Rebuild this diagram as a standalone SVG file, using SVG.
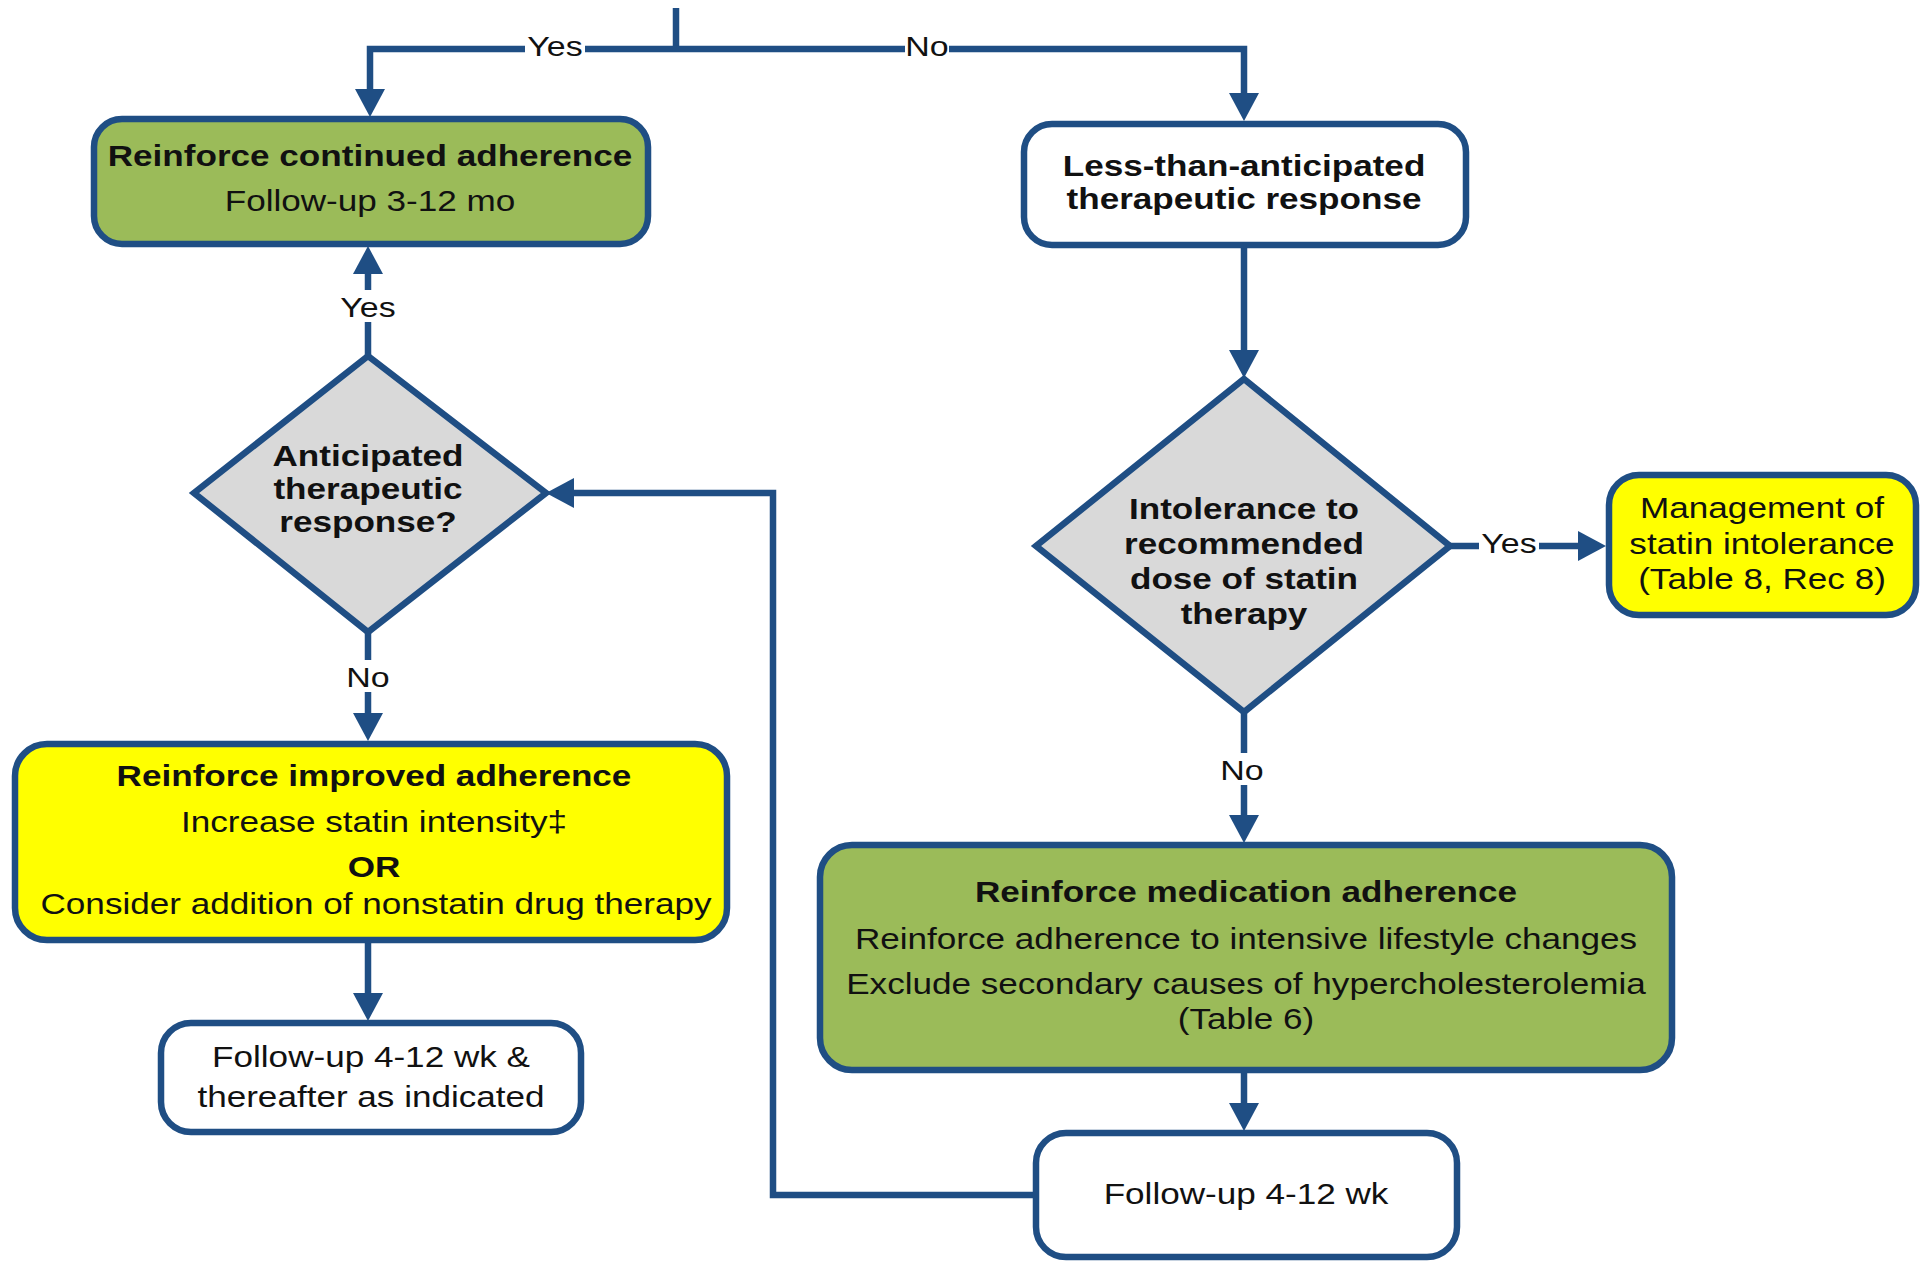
<svg xmlns="http://www.w3.org/2000/svg" width="1923" height="1265" viewBox="0 0 1923 1265">
<style>
.box{stroke:#1f4e84;stroke-width:6.5}
.green{fill:#9bbb59}
.yellow{fill:#ffff00}
.white{fill:#ffffff}
.dia{fill:#d9d9d9;stroke:#1f4e84;stroke-width:6.5;stroke-linejoin:miter}
.t{font-family:"Liberation Sans",Arial,sans-serif;font-size:29.5px;fill:#111;text-anchor:middle}
.b{font-weight:bold}
.conn{fill:none;stroke:#1f4e84;stroke-width:6.5}
.lbl{font-family:"Liberation Sans",Arial,sans-serif;font-size:28.5px;fill:#111;text-anchor:middle}
.lblbg{fill:#ffffff}
</style>
<defs>
<marker id="arr" markerUnits="userSpaceOnUse" markerWidth="30" markerHeight="32" refX="14" refY="15" orient="auto">
<path d="M0,0 L28,15 L0,30 Z" fill="#1f4e84"/>
</marker>
</defs>
<rect width="1923" height="1265" fill="#ffffff"/>
<g id="connectors">
<path class="conn" d="M676,8 V49"/>
<path class="conn" d="M676,49 H370 V103" marker-end="url(#arr)"/>
<path class="conn" d="M676,49 H1244 V107" marker-end="url(#arr)"/>
<path class="conn" d="M1244,245 V364" marker-end="url(#arr)"/>
<path class="conn" d="M1450,546 H1592" marker-end="url(#arr)"/>
<path class="conn" d="M1244,712 V829" marker-end="url(#arr)"/>
<path class="conn" d="M1244,1072 V1117" marker-end="url(#arr)"/>
<path class="conn" d="M1036,1195 H773 V493 H560" marker-end="url(#arr)"/>
<path class="conn" d="M368,356 V260" marker-end="url(#arr)"/>
<path class="conn" d="M368,632 V727" marker-end="url(#arr)"/>
<path class="conn" d="M368,942 V1007" marker-end="url(#arr)"/>
<g id="labels">
<rect class="lblbg" x="525" y="30" width="60" height="32"/>
<text class="lbl" transform="translate(555,56) scale(1.19,1)">Yes</text>
<rect class="lblbg" x="905" y="30" width="44" height="32"/>
<text class="lbl" transform="translate(927,56) scale(1.19,1)">No</text>
<rect class="lblbg" x="338" y="290" width="60" height="32"/>
<text class="lbl" transform="translate(368,317) scale(1.19,1)">Yes</text>
<rect class="lblbg" x="346" y="660" width="44" height="32"/>
<text class="lbl" transform="translate(368,687) scale(1.19,1)">No</text>
<rect class="lblbg" x="1479" y="526" width="60" height="32"/>
<text class="lbl" transform="translate(1509,553) scale(1.19,1)">Yes</text>
<rect class="lblbg" x="1220" y="753" width="44" height="32"/>
<text class="lbl" transform="translate(1242,780) scale(1.19,1)">No</text>
</g>
</g>
<g id="node-continued">
<rect class="box green" x="94" y="119" width="554" height="125" rx="28"/>
<text class="t b" transform="translate(370,166) scale(1.19,1)">Reinforce continued adherence</text>
<text class="t" transform="translate(370,211) scale(1.19,1)">Follow-up 3-12 mo</text>
</g>
<g id="node-less">
<rect class="box white" x="1024" y="124" width="442" height="121" rx="28"/>
<text class="t b" transform="translate(1244,176) scale(1.19,1)">Less-than-anticipated</text>
<text class="t b" transform="translate(1244,209) scale(1.19,1)">therapeutic response</text>
</g>
<g id="node-anticipated">
<polygon class="dia" points="368,356 546,493 368,632 194,493"/>
<text class="t b" transform="translate(368,466) scale(1.19,1)">Anticipated</text>
<text class="t b" transform="translate(368,499) scale(1.19,1)">therapeutic</text>
<text class="t b" transform="translate(368,532) scale(1.19,1)">response?</text>
</g>
<g id="node-intolerance">
<polygon class="dia" points="1244,379 1450,546 1244,712 1036,546"/>
<text class="t b" transform="translate(1244,519) scale(1.19,1)">Intolerance to</text>
<text class="t b" transform="translate(1244,554) scale(1.19,1)">recommended</text>
<text class="t b" transform="translate(1244,589) scale(1.19,1)">dose of statin</text>
<text class="t b" transform="translate(1244,624) scale(1.19,1)">therapy</text>
</g>
<g id="node-management">
<rect class="box yellow" x="1609" y="475" width="307" height="140" rx="30"/>
<text class="t" transform="translate(1762,518) scale(1.19,1)">Management of</text>
<text class="t" transform="translate(1762,554) scale(1.19,1)">statin intolerance</text>
<text class="t" transform="translate(1762,589) scale(1.19,1)">(Table 8, Rec 8)</text>
</g>
<g id="node-improved">
<rect class="box yellow" x="15" y="744" width="712" height="196" rx="32"/>
<text class="t b" transform="translate(374,786) scale(1.19,1)">Reinforce improved adherence</text>
<text class="t" transform="translate(374,832) scale(1.19,1)">Increase statin intensity‡</text>
<text class="t b" transform="translate(374,877) scale(1.19,1)">OR</text>
<text class="t" transform="translate(376,914) scale(1.19,1)">Consider addition of nonstatin drug therapy</text>
</g>
<g id="node-followup1">
<rect class="box white" x="161" y="1023" width="420" height="109" rx="30"/>
<text class="t" transform="translate(371,1067) scale(1.19,1)">Follow-up 4-12 wk &amp;</text>
<text class="t" transform="translate(371,1107) scale(1.19,1)">thereafter as indicated</text>
</g>
<g id="node-medication">
<rect class="box green" x="820" y="845" width="852" height="225" rx="32"/>
<text class="t b" transform="translate(1246,902) scale(1.19,1)">Reinforce medication adherence</text>
<text class="t" transform="translate(1246,949) scale(1.19,1)">Reinforce adherence to intensive lifestyle changes</text>
<text class="t" transform="translate(1246,994) scale(1.19,1)">Exclude secondary causes of hypercholesterolemia</text>
<text class="t" transform="translate(1246,1029) scale(1.19,1)">(Table 6)</text>
</g>
<g id="node-followup2">
<rect class="box white" x="1036" y="1133" width="421" height="124" rx="30"/>
<text class="t" transform="translate(1246,1204) scale(1.19,1)">Follow-up 4-12 wk</text>
</g>
</svg>
